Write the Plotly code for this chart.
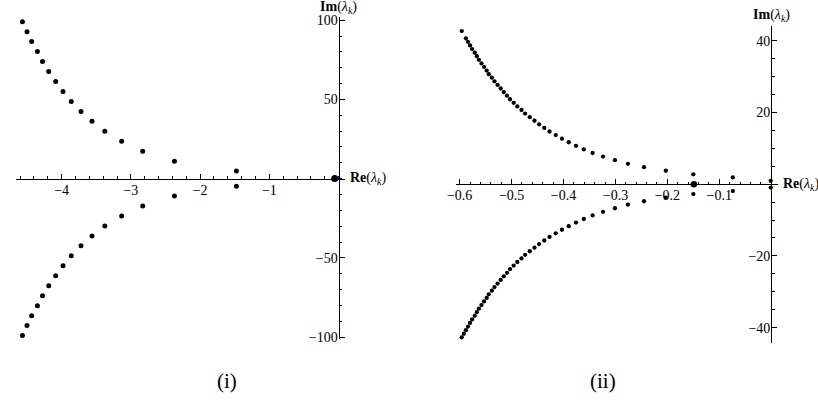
import numpy as np
import plotly.graph_objects as go

# ---------------- data: panel (i) ----------------
re_i_upper = [-4.566, -4.500, -4.433, -4.350, -4.276, -4.186, -4.086, -3.980,
              -3.861, -3.720, -3.561, -3.376, -3.133, -2.829, -2.371, -1.476]
im_i_upper = [99.0, 92.7, 86.5, 80.2, 73.9, 67.6, 61.3, 55.0,
              48.7, 42.4, 36.2, 29.9, 23.6, 17.3, 11.0, 4.75]
re_i_lower = [-4.566, -4.500, -4.433, -4.350, -4.276, -4.186, -4.086, -3.980,
              -3.861, -3.720, -3.561, -3.376, -3.133, -2.829, -2.371, -1.476]
im_i_lower = [-99.0, -92.7, -86.5, -80.2, -73.9, -67.6, -61.3, -55.0,
              -48.7, -42.4, -36.2, -29.9, -23.6, -17.3, -11.0, -4.75]
re_i_real = [-0.056]
im_i_real = [0.0]

# ---------------- data: panel (ii) ----------------
re_ii_upper = [-0.596, -0.588, -0.584, -0.580, -0.576, -0.571, -0.567, -0.563,
               -0.558, -0.553, -0.548, -0.544, -0.538, -0.533, -0.527, -0.521,
               -0.515, -0.509, -0.503, -0.496, -0.489, -0.481, -0.474, -0.465,
               -0.456, -0.447, -0.437, -0.427, -0.415, -0.403, -0.390, -0.376,
               -0.361, -0.344, -0.324, -0.301, -0.276, -0.245, -0.203, -0.150,
               -0.074, -0.001]
im_ii_upper = [42.7, 40.7, 39.7, 38.7, 37.7, 36.7, 35.7, 34.7,
               33.7, 32.7, 31.7, 30.7, 29.7, 28.7, 27.7, 26.7,
               25.7, 24.7, 23.7, 22.7, 21.7, 20.7, 19.7, 18.7,
               17.7, 16.7, 15.7, 14.7, 13.7, 12.7, 11.7, 10.7,
               9.7, 8.7, 7.7, 6.7, 5.7, 4.75, 3.75, 2.75,
               1.9, 0.95]
re_ii_lower = [-0.596, -0.592, -0.588, -0.584, -0.580, -0.576, -0.571, -0.567, -0.563,
               -0.558, -0.553, -0.548, -0.544, -0.538, -0.533, -0.527, -0.521,
               -0.515, -0.509, -0.503, -0.496, -0.489, -0.481, -0.474, -0.465,
               -0.456, -0.447, -0.437, -0.427, -0.415, -0.403, -0.390, -0.376,
               -0.361, -0.344, -0.324, -0.301, -0.276, -0.245, -0.203, -0.150,
               -0.074, -0.001]
im_ii_lower = [-42.7, -41.7, -40.7, -39.7, -38.7, -37.7, -36.7, -35.7, -34.7,
               -33.7, -32.7, -31.7, -30.7, -29.7, -28.7, -27.7, -26.7,
               -25.7, -24.7, -23.7, -22.7, -21.7, -20.7, -19.7, -18.7,
               -17.7, -16.7, -15.7, -14.7, -13.7, -12.7, -11.7, -10.7,
               -9.7, -8.7, -7.7, -6.7, -5.7, -4.75, -3.75, -2.75,
               -1.9, -0.95]
re_ii_real = [-0.149]
im_ii_real = [0.0]

# tick labels
xt_i = [-4, -3, -2, -1]
yt_i = [-100, -50, 50, 100]
xt_ii = [-0.6, -0.5, -0.4, -0.3, -0.2, -0.1]
yt_ii = [-40, -20, 20, 40]

# ---------------- layout geometry ----------------
W, H = 818, 408
FONT = "Liberation Serif, Times New Roman, DejaVu Serif, serif"

xr_i, yr_i = [-4.66, 0.096], [-101.5, 102.2]
xr_ii, yr_ii = [-0.6076, 0.0139], [-44.3, 44.07]

xdom_i = [7 / W, 340 / W]
ydom_i = [1 - 343 / H, 1 - 13 / H]
xdom_ii = [451.7 / W, 778 / W]
ydom_ii = [1 - 346.7 / H, 1 - 22.7 / H]


def zero_pos(dom, rng):
    return dom[0] + (0 - rng[0]) / (rng[1] - rng[0]) * (dom[1] - dom[0])


fig = go.Figure()
dot = dict(color="black")
fig.add_trace(go.Scatter(x=re_i_upper, y=im_i_upper, mode="markers",
                         marker=dict(size=5, **dot), xaxis="x", yaxis="y"))
fig.add_trace(go.Scatter(x=re_i_lower, y=im_i_lower, mode="markers",
                         marker=dict(size=5, **dot), xaxis="x", yaxis="y"))
fig.add_trace(go.Scatter(x=re_i_real, y=im_i_real, mode="markers",
                         marker=dict(size=7, **dot), xaxis="x", yaxis="y"))
fig.add_trace(go.Scatter(x=re_ii_upper, y=im_ii_upper, mode="markers",
                         marker=dict(size=4.3, **dot), xaxis="x2", yaxis="y2"))
fig.add_trace(go.Scatter(x=re_ii_lower, y=im_ii_lower, mode="markers",
                         marker=dict(size=4.3, **dot), xaxis="x2", yaxis="y2"))
fig.add_trace(go.Scatter(x=re_ii_real, y=im_ii_real, mode="markers",
                         marker=dict(size=6.5, **dot), xaxis="x2", yaxis="y2"))

tickfont = dict(family=FONT, size=14, color="black")


def axis(dom, rng, pos, vals, minor_step, side, fmt=None):
    mv = np.round(np.arange(np.ceil(rng[0] / minor_step) * minor_step, rng[1], minor_step), 6)
    d = dict(domain=dom, range=rng, anchor="free", position=pos, side=side,
             showline=True, linecolor="black", linewidth=1.2,
             showgrid=False, zeroline=False,
             tickmode="array", tickvals=vals, ticks="inside", ticklen=5,
             tickwidth=1, tickcolor="black", tickfont=tickfont,
             ticklabelstandoff=-2,
             minor=dict(tickmode="array", tickvals=list(mv), ticks="inside",
                        ticklen=2.5, tickwidth=0.8, tickcolor="black", showgrid=False))
    if fmt:
        d["ticktext"] = [fmt(v) for v in vals]
    return d


fig.update_layout(
    width=W, height=H, margin=dict(l=0, r=0, t=0, b=0),
    paper_bgcolor="white", plot_bgcolor="white", showlegend=False,
    font=dict(family=FONT, color="black"),
    xaxis=axis(xdom_i, xr_i, zero_pos(ydom_i, yr_i), xt_i, 0.2, "bottom"),
    yaxis=axis(ydom_i, yr_i, zero_pos(xdom_i, xr_i), yt_i, 10, "left"),
    xaxis2=axis(xdom_ii, xr_ii, zero_pos(ydom_ii, yr_ii), xt_ii, 0.02, "bottom",
                fmt=lambda v: f"{v:.1f}".replace("-", "\u2212")),
    yaxis2=axis(ydom_ii, yr_ii, zero_pos(xdom_ii, xr_ii), yt_ii, 5, "left"),
)

lab_im = "<b>Im</b>(<i>\u03bb</i><sub><i>k</i></sub>)"
lab_re = "<b>Re</b>(<i>\u03bb</i><sub><i>k</i></sub>)"
lf = dict(family=FONT, size=14, color="black")
fig.add_annotation(text=lab_im, x=0, xref="x", y=1, yref="y domain", yshift=-1,
                   xanchor="center", yanchor="bottom", showarrow=False, font=lf)
fig.add_annotation(text=lab_re, x=1, xref="x domain", xshift=3, y=0, yref="y",
                   xanchor="left", yanchor="middle", showarrow=False, font=lf)
fig.add_annotation(text=lab_im, x=0, xref="x2", y=1, yref="y2 domain",
                   xanchor="center", yanchor="bottom", showarrow=False, font=lf)
fig.add_annotation(text=lab_re, x=1, xref="x2 domain", xshift=3, y=0, yref="y2",
                   xanchor="left", yanchor="middle", showarrow=False, font=lf)

pf = dict(family=FONT, size=21, color="black")
fig.add_annotation(text="(i)", x=220 / W, y=1 - 385 / H, xref="paper", yref="paper",
                   xanchor="center", yanchor="middle", showarrow=False, font=pf)
fig.add_annotation(text="(ii)", x=601 / W, y=1 - 386 / H, xref="paper", yref="paper",
                   xanchor="center", yanchor="middle", showarrow=False, font=pf)

fig.write_html("out.html")
